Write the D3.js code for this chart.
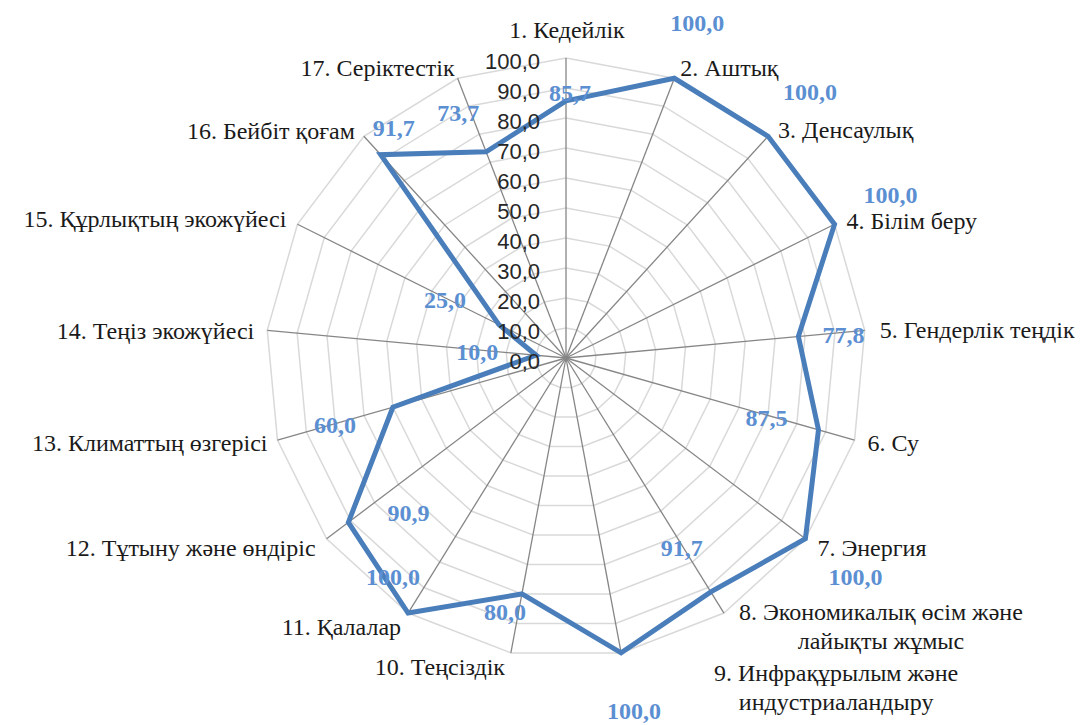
<!DOCTYPE html>
<html><head><meta charset="utf-8">
<script src="https://cdn.jsdelivr.net/npm/d3@7"></script>
<style>
html,body{margin:0;padding:0;background:#fff;}
.serif{font-family:"Liberation Serif","Times New Roman","Tinos","DejaVu Serif",serif;}
.sans{font-family:"Liberation Sans",Arial,"DejaVu Sans",sans-serif;}
</style>
</head><body>
<svg id="chart" width="1087" height="725"></svg>
<script>
const categories = [
  ["1. Кедейлік"], ["2. Аштық"], ["3. Денсаулық"], ["4. Білім беру"],
  ["5. Гендерлік теңдік"], ["6. Су"], ["7. Энергия"],
  ["8. Экономикалық өсім және", "лайықты жұмыс"],
  ["9. Инфрақұрылым және", "индустриаландыру"],
  ["10. Теңсіздік"], ["11. Қалалар"], ["12. Тұтыну және өндіріс"],
  ["13. Климаттың өзгерісі"], ["14. Теңіз экожүйесі"],
  ["15. Құрлықтың экожүйесі"], ["16. Бейбіт қоғам"], ["17. Серіктестік"]
];
const values = [85.7, 100, 100, 100, 77.8, 87.5, 100, 91.7, 100, 80, 100, 90.9, 60, 10, 25, 91.7, 73.7];
const valueLabels = ["85,7","100,0","100,0","100,0","77,8","87,5","100,0","91,7","100,0","80,0","100,0","90,9","60,0","10,0","25,0","91,7","73,7"];
const tickValues = [0,10,20,30,40,50,60,70,80,90,100];
const tickLabels = ["0,0","10,0","20,0","30,0","40,0","50,0","60,0","70,0","80,0","90,0","100,0"];

// layout: data label nudges from the data point [dx, dy]
const dataLabelNudge = [[4,-8],[23,-55],[42,-44],[56,-29],[45,-1],[-52,-12],[50,38],[-29,-44],[13,58],[-17,18],[-15,-36],[60,-9],[-58,18],[-59,-3],[-54,-25],[13,-27],[-28,-39]];
// layout: category label placement relative to axis end [anchor, dx, dy(center of first line)]
const catLabelPos = [["middle",1,-28],["start",6,-10],["start",10,-6],["start",12,-3],["start",15,0],["start",13,3],["start",12,9],
  ["middle",157,-1],["middle",215,20],["middle",-71,14],["end",-7,14],["end",-11,9],["end",-10,3],["end",-13,1],["end",-11,-5],["end",-9,-5],["end",-3,-10]];

const cx = 566, cy = 358, R = 300;
const svg = d3.select("#chart");
const n = categories.length;
const angle = d3.scaleLinear().domain([0, n]).range([0, 2*Math.PI]);
const rScale = d3.scaleLinear().domain([0, 100]).range([0, R]);
const g = svg.append("g").attr("transform", `translate(${cx},${cy})`);
const pt = (i, v) => [Math.sin(angle(i))*rScale(v), -Math.cos(angle(i))*rScale(v)];

// grid rings
const radial = d3.lineRadial().angle((d,i)=>angle(i)).curve(d3.curveLinearClosed);
tickValues.filter(t=>t>0).forEach(t=>{
  g.append("path").attr("d", radial.radius(rScale(t))(d3.range(n)))
   .attr("fill","none").attr("stroke","#d9d9d9").attr("stroke-width",1.5);
});
// spokes
d3.range(n).forEach(i=>{
  const [x,y] = pt(i,100);
  g.append("line").attr("x1",0).attr("y1",0).attr("x2",x).attr("y2",y)
   .attr("stroke","#868686").attr("stroke-width",1.3);
});
// series line
g.append("path")
  .attr("d", d3.lineRadial().angle((d,i)=>angle(i)).radius(d=>rScale(d)).curve(d3.curveLinearClosed)(values))
  .attr("fill","none").attr("stroke","#4a7ebb").attr("stroke-width",5).attr("stroke-linejoin","miter");

// tick labels
g.selectAll("text.tick").data(tickValues).join("text")
  .attr("class","sans")
  .attr("x",-26).attr("y",d=>-rScale(d)+3)
  .attr("text-anchor","end").attr("dominant-baseline","central")
  .attr("font-size",22).attr("fill","#262626")
  .text((d,i)=>tickLabels[i]);

// data labels
g.selectAll("text.dl").data(values).join("text")
  .attr("class","serif")
  .attr("x",(d,i)=>pt(i,d)[0]+dataLabelNudge[i][0])
  .attr("y",(d,i)=>pt(i,d)[1]+dataLabelNudge[i][1])
  .attr("text-anchor","middle").attr("dominant-baseline","central")
  .attr("font-weight","bold")
  .attr("font-size",24).attr("fill","#5b8fd2")
  .text((d,i)=>valueLabels[i]);

// category labels
categories.forEach((lines,i)=>{
  const [x,y] = pt(i,100);
  const [anc,dx,dy] = catLabelPos[i];
  const t = g.append("text").attr("class","serif").attr("text-anchor",anc)
    .attr("font-size",24).attr("fill","#1a1a1a");
  lines.forEach((l,k)=>{
    t.append("tspan").attr("x",x+dx).attr("y",y+dy+k*29).attr("dominant-baseline","central").text(l);
  });
});
</script>
</body></html>
